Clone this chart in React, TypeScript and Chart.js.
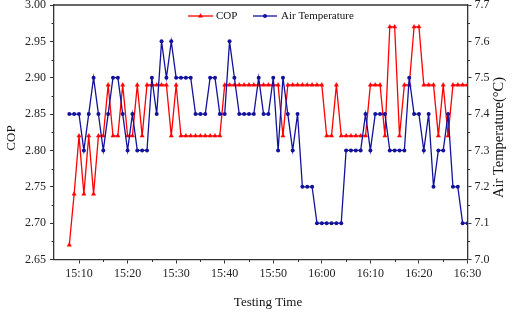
import React, { useEffect, useRef } from 'react';
import { Chart, registerables } from 'chart.js';

Chart.register(...registerables);

const timeLabels = [
  '15:08', '15:09', '15:10', '15:11', '15:12', '15:13', '15:14', '15:15', '15:16', '15:17',
  '15:18', '15:19', '15:20', '15:21', '15:22', '15:23', '15:24', '15:25', '15:26', '15:27',
  '15:28', '15:29', '15:30', '15:31', '15:32', '15:33', '15:34', '15:35', '15:36', '15:37',
  '15:38', '15:39', '15:40', '15:41', '15:42', '15:43', '15:44', '15:45', '15:46', '15:47',
  '15:48', '15:49', '15:50', '15:51', '15:52', '15:53', '15:54', '15:55', '15:56', '15:57',
  '15:58', '15:59', '16:00', '16:01', '16:02', '16:03', '16:04', '16:05', '16:06', '16:07',
  '16:08', '16:09', '16:10', '16:11', '16:12', '16:13', '16:14', '16:15', '16:16', '16:17',
  '16:18', '16:19', '16:20', '16:21', '16:22', '16:23', '16:24', '16:25', '16:26', '16:27',
  '16:28', '16:29', '16:30',
];

const copValues = [
  2.67, 2.74, 2.82, 2.74, 2.82, 2.74, 2.82, 2.82, 2.89, 2.82,
  2.82, 2.89, 2.82, 2.82, 2.89, 2.82, 2.89, 2.89, 2.89, 2.89,
  2.89, 2.82, 2.89, 2.82, 2.82, 2.82, 2.82, 2.82, 2.82, 2.82,
  2.82, 2.82, 2.89, 2.89, 2.89, 2.89, 2.89, 2.89, 2.89, 2.89,
  2.89, 2.89, 2.89, 2.89, 2.82, 2.89, 2.89, 2.89, 2.89, 2.89,
  2.89, 2.89, 2.89, 2.82, 2.82, 2.89, 2.82, 2.82, 2.82, 2.82,
  2.82, 2.82, 2.89, 2.89, 2.89, 2.82, 2.97, 2.97, 2.82, 2.89,
  2.89, 2.97, 2.97, 2.89, 2.89, 2.89, 2.82, 2.89, 2.82, 2.89,
  2.89, 2.89, 2.89,
];

const airTempValues = [
  7.4, 7.4, 7.4, 7.3, 7.4, 7.5, 7.4, 7.3, 7.4, 7.5,
  7.5, 7.4, 7.3, 7.4, 7.3, 7.3, 7.3, 7.5, 7.4, 7.6,
  7.5, 7.6, 7.5, 7.5, 7.5, 7.5, 7.4, 7.4, 7.4, 7.5,
  7.5, 7.4, 7.4, 7.6, 7.5, 7.4, 7.4, 7.4, 7.4, 7.5,
  7.4, 7.4, 7.5, 7.3, 7.5, 7.4, 7.3, 7.4, 7.2, 7.2,
  7.2, 7.1, 7.1, 7.1, 7.1, 7.1, 7.1, 7.3, 7.3, 7.3,
  7.3, 7.4, 7.3, 7.4, 7.4, 7.4, 7.3, 7.3, 7.3, 7.3,
  7.5, 7.4, 7.4, 7.3, 7.4, 7.2, 7.3, 7.3, 7.4, 7.2,
  7.2, 7.1, 7.1,
];

const xTickLabels = ['15:10', '15:20', '15:30', '15:40', '15:50', '16:00', '16:10', '16:20', '16:30'];
const xMinorLabels = ['15:15', '15:25', '15:35', '15:45', '15:55', '16:05', '16:15', '16:25'];
const copTicks = [2.65, 2.7, 2.75, 2.8, 2.85, 2.9, 2.95, 3.0];
const copMinorTicks = [2.675, 2.725, 2.775, 2.825, 2.875, 2.925, 2.975];
const tempTicks = [7.0, 7.1, 7.2, 7.3, 7.4, 7.5, 7.6, 7.7];
const tempMinorTicks = [7.05, 7.15, 7.25, 7.35, 7.45, 7.55, 7.65];

const RED = '#ff0000';
const BLUE = '#12129c';
const AXIS = '#333333';
const SERIF = '"Liberation Serif", "Times New Roman", serif';

const toMin = (s: string) => {
  const [h, m] = s.split(':').map(Number);
  return (h - 15) * 60 + m;
};
const fmtMin = (v: number) => {
  const h = 15 + Math.floor(v / 60);
  const m = Math.round(v % 60);
  return `${h}:${m < 10 ? '0' + m : m}`;
};

const decorPlugin = {
  id: 'decor',
  afterDraw(chart: any) {
    const { ctx, chartArea } = chart;
    const { left, right, top, bottom } = chartArea;
    const sx = chart.scales.x;
    const sy = chart.scales.y;
    const sy2 = chart.scales.y2;
    ctx.save();
    // top border
    ctx.strokeStyle = AXIS;
    ctx.lineWidth = 1.3;
    ctx.beginPath();
    ctx.moveTo(left, top);
    ctx.lineTo(right, top);
    ctx.stroke();
    // minor ticks
    ctx.lineWidth = 1;
    ctx.beginPath();
    xMinorLabels.forEach((l) => {
      const px = Math.round(sx.getPixelForValue(toMin(l))) + 0.5;
      ctx.moveTo(px, bottom);
      ctx.lineTo(px, bottom + 2.5);
    });
    copMinorTicks.forEach((v) => {
      const py = Math.round(sy.getPixelForValue(v)) + 0.5;
      ctx.moveTo(left, py);
      ctx.lineTo(left - 2.5, py);
    });
    tempMinorTicks.forEach((v) => {
      const py = Math.round(sy2.getPixelForValue(v)) + 0.5;
      ctx.moveTo(right, py);
      ctx.lineTo(right + 2.5, py);
    });
    ctx.stroke();

    // axis titles
    ctx.fillStyle = '#111';
    ctx.textAlign = 'center';
    ctx.textBaseline = 'middle';
    ctx.font = `13px ${SERIF}`;
    ctx.fillText('Testing Time', 268, 303);
    ctx.save();
    ctx.translate(12, 138);
    ctx.rotate(-Math.PI / 2);
    ctx.font = `13px ${SERIF}`;
    ctx.fillText('COP', 0, 0);
    ctx.restore();
    ctx.save();
    ctx.translate(499, 137.5);
    ctx.rotate(-Math.PI / 2);
    ctx.font = `14.5px ${SERIF}`;
    ctx.fillText('Air Temperature(°C)', 0, 0);
    ctx.restore();

    // legend
    const ly = 16;
    ctx.font = `11px ${SERIF}`;
    ctx.textAlign = 'left';
    ctx.lineWidth = 1.3;
    // COP
    ctx.strokeStyle = RED;
    ctx.fillStyle = RED;
    ctx.beginPath();
    ctx.moveTo(188, ly);
    ctx.lineTo(213, ly);
    ctx.stroke();
    ctx.beginPath();
    ctx.moveTo(200.5, ly - 2.8);
    ctx.lineTo(203, ly + 1.6);
    ctx.lineTo(198, ly + 1.6);
    ctx.closePath();
    ctx.fill();
    ctx.fillStyle = '#111';
    ctx.fillText('COP', 216, ly + 0.5);
    // Air temperature
    ctx.strokeStyle = BLUE;
    ctx.fillStyle = BLUE;
    ctx.beginPath();
    ctx.moveTo(253, ly);
    ctx.lineTo(277, ly);
    ctx.stroke();
    ctx.beginPath();
    ctx.arc(265, ly, 2, 0, Math.PI * 2);
    ctx.fill();
    ctx.fillStyle = '#111';
    ctx.fillText('Air Temperature', 281, ly + 0.5);
    ctx.restore();
  },
};

export default function App() {
  const canvasRef = useRef<HTMLCanvasElement | null>(null);

  useEffect(() => {
    document.body.style.margin = '0';
    const canvas = canvasRef.current;
    if (!canvas) return;
    const chart = new Chart(canvas, {
      type: 'line',
      data: {
        datasets: [
          {
            label: 'Air Temperature',
            data: timeLabels.map((t, i) => ({ x: toMin(t), y: airTempValues[i] })),
            yAxisID: 'y2',
            borderColor: BLUE,
            backgroundColor: BLUE,
            borderWidth: 1.3,
            pointStyle: 'circle',
            pointRadius: 2,
            pointBorderWidth: 0,
            tension: 0,
            order: 0,
          },
          {
            label: 'COP',
            data: timeLabels.map((t, i) => ({ x: toMin(t), y: copValues[i] })),
            yAxisID: 'y',
            borderColor: RED,
            backgroundColor: RED,
            borderWidth: 1.3,
            pointStyle: 'triangle',
            pointRadius: 2.4,
            pointBorderWidth: 0.5,
            tension: 0,
            order: 1,
          },
        ],
      },
      options: {
        animation: false,
        responsive: false,
        devicePixelRatio: 1,
        layout: { padding: { top: 5, left: 0, right: 0, bottom: 0 } },
        plugins: {
          legend: { display: false },
          tooltip: { enabled: false },
        },
        scales: {
          x: {
            type: 'linear',
            position: 'bottom',
            min: 4.85,
            max: 90,
            afterBuildTicks: (scale: any) => {
              scale.ticks = xTickLabels.map((l) => ({ value: toMin(l) }));
            },
            afterFit: (scale: any) => {
              scale.height = 52.5;
              scale.paddingLeft = 0;
              scale.paddingRight = 0;
            },
            ticks: {
              callback: (v: any) => fmtMin(Number(v)),
              font: { family: SERIF, size: 12 },
              color: '#222',
              padding: 3,
              maxRotation: 0,
              autoSkip: false,
            },
            grid: {
              drawOnChartArea: false,
              drawTicks: true,
              tickLength: 4,
              tickColor: AXIS,
              tickWidth: 1,
            },
            border: { color: AXIS, width: 1.3 },
          },
          y: {
            type: 'linear',
            position: 'left',
            min: 2.65,
            max: 3.0,
            afterBuildTicks: (scale: any) => {
              scale.ticks = copTicks.map((v) => ({ value: v }));
            },
            afterFit: (scale: any) => {
              scale.width = 54;
              scale.paddingTop = 0;
              scale.paddingBottom = 0;
            },
            ticks: {
              callback: (v: any) => Number(v).toFixed(2),
              font: { family: SERIF, size: 12 },
              color: '#222',
              padding: 4,
            },
            grid: {
              drawOnChartArea: false,
              drawTicks: true,
              tickLength: 4,
              tickColor: AXIS,
              tickWidth: 1,
            },
            border: { color: AXIS, width: 1.3 },
          },
          y2: {
            type: 'linear',
            position: 'right',
            min: 7.0,
            max: 7.7,
            afterBuildTicks: (scale: any) => {
              scale.ticks = tempTicks.map((v) => ({ value: v }));
            },
            afterFit: (scale: any) => {
              scale.width = 44.5;
              scale.paddingTop = 0;
              scale.paddingBottom = 0;
            },
            ticks: {
              callback: (v: any) => Number(v).toFixed(1),
              font: { family: SERIF, size: 12 },
              color: '#222',
              padding: 3,
            },
            grid: {
              drawOnChartArea: false,
              drawTicks: true,
              tickLength: 4,
              tickColor: AXIS,
              tickWidth: 1,
            },
            border: { color: AXIS, width: 1.3 },
          },
        },
      },
      plugins: [decorPlugin],
    });
    return () => chart.destroy();
  }, []);

  return (
    <div style={{ width: 512, height: 312, background: '#fff' }}>
      <canvas ref={canvasRef} width={512} height={312} style={{ display: 'block' }} />
    </div>
  );
}
